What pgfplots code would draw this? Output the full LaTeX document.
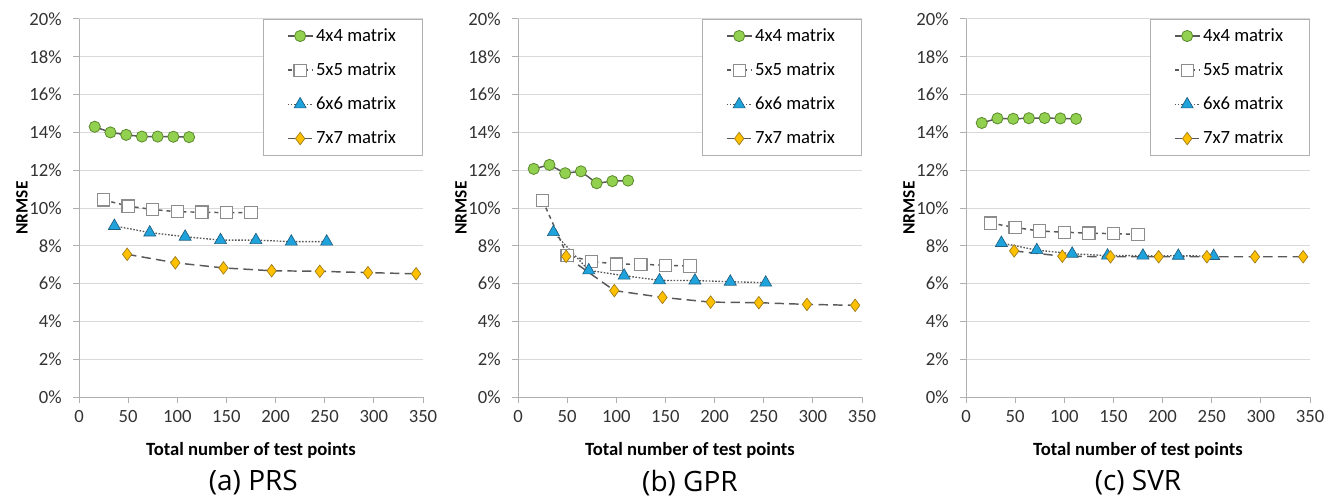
\documentclass[border=0pt]{standalone}
\usepackage{fontspec}
\setmainfont{Carlito}
\newfontfamily\capfont{Open Sans}
\usepackage{pgfplots}
\pgfplotsset{compat=1.18}

\definecolor{gridgray}{HTML}{D9D9D9}
\definecolor{axgray}{HTML}{B0B0B0}
\definecolor{linegray}{HTML}{595959}
\definecolor{greenfill}{HTML}{92D050}
\definecolor{greenedge}{HTML}{5A8A2A}
\definecolor{sqedge}{HTML}{8C8C8C}
\definecolor{bluefill}{HTML}{1FA3DC}
\definecolor{blueedge}{HTML}{1F5F80}
\definecolor{goldfill}{HTML}{FFC000}
\definecolor{goldedge}{HTML}{9C7A1A}
\definecolor{ticktext}{HTML}{333333}

\pgfplotsset{
  panel/.style={
    scale only axis, width=258pt, height=283.5pt, anchor=south west,
    xmin=0, xmax=350, ymin=0, ymax=20,
    xtick={0,50,...,350}, ytick={0,2,...,20},
    axis x line*=bottom, axis y line*=left,
    axis line style={draw=axgray, line width=0.75pt, -},
    ymajorgrids, grid style={draw=gridgray, line width=0.75pt},
    tick align=outside, major tick length=4.5pt,
    tick style={draw=axgray, line width=0.75pt},
    yticklabel={\pgfmathprintnumber{\tick}\%},
    /pgf/number format/assume math mode=true,
    tick label style={font=\fontsize{14}{16}\selectfont, text=ticktext},
    yticklabel style={xshift=-5pt},
    xticklabel style={yshift=-2pt},
    xlabel={Total number of test points}, ylabel={NRMSE},
    xlabel style={font=\bfseries\fontsize{14}{16}\selectfont,
      at={(axis description cs:0.5,-0.142)}, anchor=center},
    ylabel style={font=\bfseries\fontsize{13}{15}\selectfont,
      at={(axis description cs:-0.1657,0.5)}, anchor=center},
    legend style={at={(1,1)}, anchor=north east, draw=axgray, fill=white,
      font=\fontsize{14}{16}\selectfont, row sep=10.5pt,
      inner xsep=18pt, inner ysep=5pt},
    legend cell align=left,
    legend image code/.code={%
      \draw[mark repeat=2,mark phase=2] plot coordinates {(0pt,0pt) (9.4pt,0pt) (18.75pt,0pt)};},
  },
  s4/.style={linegray, line width=1.1pt, solid, mark=*, mark size=4.2pt,
    mark options={fill=greenfill, draw=greenedge, line width=0.6pt, solid}},
  s5/.style={linegray, line width=1.1pt, dash pattern=on 3pt off 3pt, mark=square*, mark size=4.6pt,
    mark options={fill=white, draw=sqedge, line width=0.8pt, solid}},
  s6/.style={linegray, line width=1pt, dash pattern=on 1.2pt off 1.2pt, mark=triangle*, mark size=5.2pt,
    mark options={fill=bluefill, draw=blueedge, line width=0.5pt, solid}},
  s7/.style={linegray, line width=1.1pt, dash pattern=on 7pt off 4pt, mark=diamond*, mark size=4.7pt,
    mark options={fill=goldfill, draw=goldedge, line width=0.5pt, solid}},
}

\begin{document}
\begin{tikzpicture}
\useasboundingbox (0,0) rectangle (1003.5pt,375pt);

% (a) PRS
\begin{axis}[panel, at={(59.25pt,77.25pt)}]
\addplot[s4] coordinates {(16,14.3) (32,14.0) (48,13.87) (64,13.78) (80,13.78) (96,13.77) (112,13.75)};
\addplot[s5] coordinates {(25,10.43) (50,10.1) (75,9.92) (100,9.8) (125,9.78) (150,9.75) (175,9.75)};
\addplot[s6] coordinates {(36,9.05) (72,8.7) (108,8.48) (144,8.3) (180,8.3) (216,8.22) (252,8.22)};
\addplot[s7] coordinates {(49,7.55) (98,7.1) (147,6.83) (196,6.68) (245,6.65) (294,6.58) (343,6.52)};
\legend{4x4 matrix, 5x5 matrix, 6x6 matrix, 7x7 matrix}
\end{axis}

% (b) GPR
\begin{axis}[panel, at={(388.5pt,77.25pt)}]
\addplot[s4] coordinates {(16,12.07) (32,12.28) (48,11.84) (64,11.94) (80,11.31) (96,11.42) (112,11.45)};
\addplot[s5] coordinates {(25,10.4) (50,7.5) (75,7.18) (100,7.03) (125,7.02) (150,6.97) (175,6.93)};
\addplot[s6] coordinates {(36,8.72) (72,6.7) (108,6.42) (144,6.17) (180,6.16) (216,6.1) (252,6.05)};
\addplot[s7] coordinates {(49,7.44) (98,5.63) (147,5.27) (196,5.02) (245,4.99) (294,4.9) (343,4.85)};
\legend{4x4 matrix, 5x5 matrix, 6x6 matrix, 7x7 matrix}
\end{axis}

% (c) SVR
\begin{axis}[panel, at={(724.5pt,77.25pt)}]
\addplot[s4] coordinates {(16,14.5) (32,14.74) (48,14.72) (64,14.75) (80,14.76) (96,14.74) (112,14.72)};
\addplot[s5] coordinates {(25,9.2) (50,8.97) (75,8.78) (100,8.72) (125,8.67) (150,8.64) (175,8.6)};
\addplot[s6] coordinates {(36,8.15) (72,7.77) (108,7.58) (144,7.48) (180,7.48) (216,7.47) (252,7.46)};
\addplot[s7] coordinates {(49,7.73) (98,7.45) (147,7.42) (196,7.42) (245,7.42) (294,7.42) (343,7.42)};
\legend{4x4 matrix, 5x5 matrix, 6x6 matrix, 7x7 matrix}
\end{axis}

% panel captions
\node[font=\capfont\fontsize{21}{24}\selectfont] at (190pt,13pt) {(a) PRS};
\node[font=\capfont\fontsize{21}{24}\selectfont] at (517.5pt,13pt) {(b) GPR};
\node[font=\capfont\fontsize{21}{24}\selectfont] at (853.5pt,13pt) {(c) SVR};
\end{tikzpicture}
\end{document}
